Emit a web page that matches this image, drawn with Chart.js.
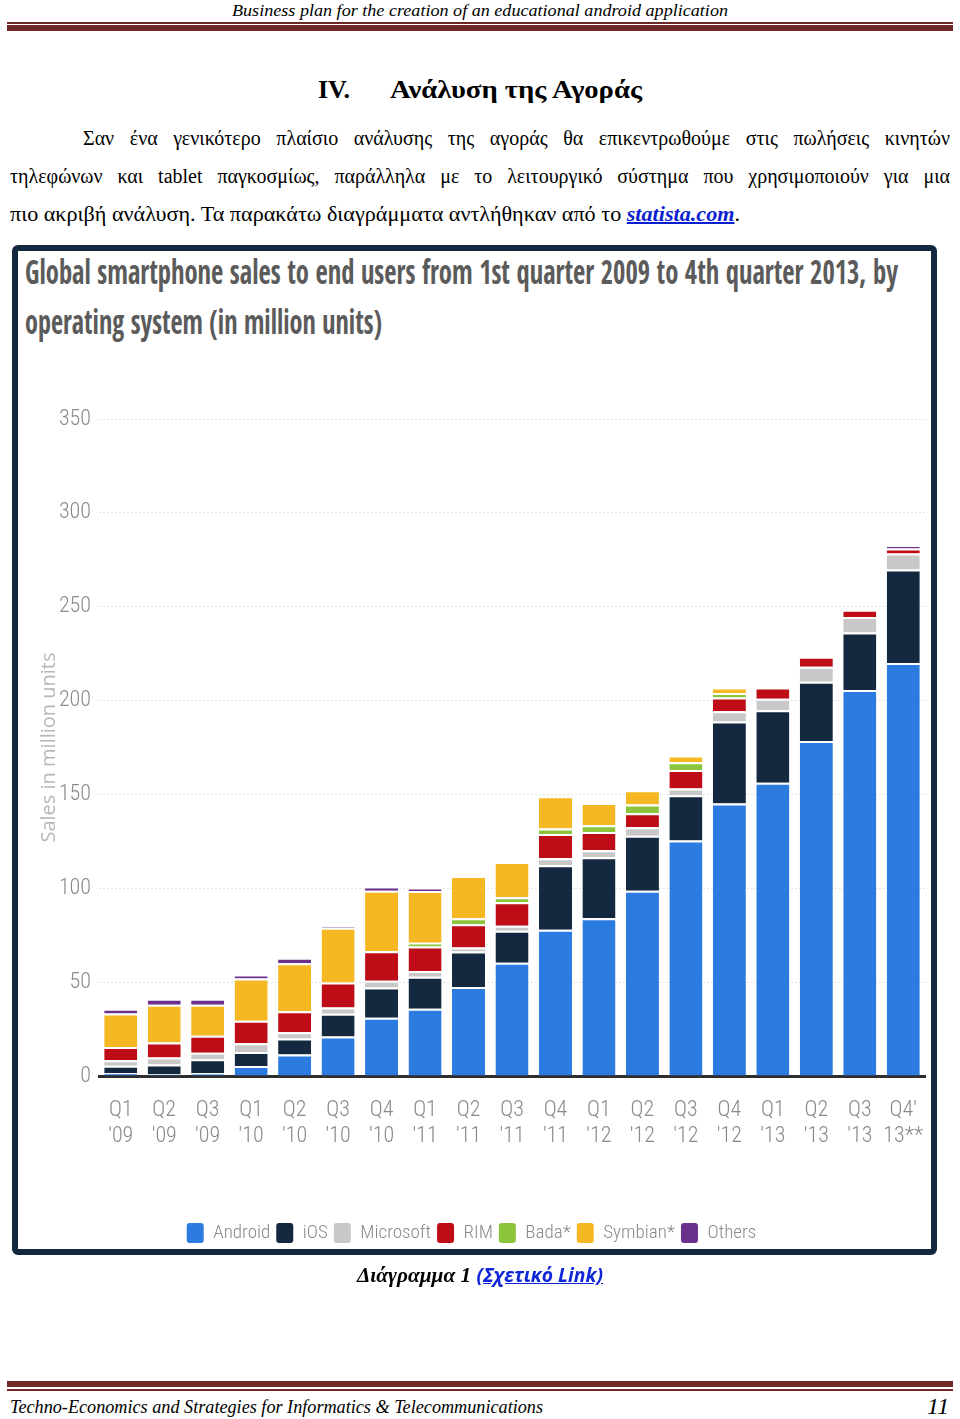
<!DOCTYPE html>
<html><head><meta charset="utf-8">
<script src="https://cdn.jsdelivr.net/npm/chart.js@4.4.1/dist/chart.umd.min.js"></script>
<style>
html,body{margin:0;padding:0;background:#fff;}
body{width:960px;height:1419px;position:relative;overflow:hidden;font-family:"Liberation Serif","Times New Roman",serif;color:#000;}
.abs{position:absolute;white-space:nowrap;}
.fit{transform-origin:0 0;display:inline-block;}
.rule{position:absolute;left:7px;width:946px;background:#6e2828;}
.pline{position:absolute;font-size:20px;line-height:24px;height:24px;white-space:nowrap;}
.just{text-align:justify;text-align-last:justify;white-space:normal;}
a.lnk{color:#0a1fd0;font-weight:bold;font-style:italic;text-decoration:underline;}
#frame{position:absolute;left:12px;top:245px;width:913px;height:998px;border:6px solid #14283f;border-radius:6px;}
.ct{position:absolute;left:25px;font-family:"Open Sans Condensed","Open Sans",sans-serif;font-weight:bold;font-size:34px;line-height:40px;color:#5b5b5b;white-space:nowrap;}
#cv{position:absolute;left:18px;top:370px;}
</style></head>
<body>
<div class="abs fit" id="hdr" style="left:232px;top:0px;font-style:italic;font-size:17px;line-height:21px;" data-w="496">Business plan for the creation of an educational android application</div>
<div class="rule" style="top:22px;height:1.5px;"></div>
<div class="rule" style="top:25px;height:6px;"></div>

<div class="abs" style="left:318px;top:74px;font-weight:bold;font-size:26px;line-height:32px;">IV.</div>
<div class="abs fit" style="left:390px;top:74px;font-weight:bold;font-size:26px;line-height:32px;" data-w="252">Ανάλυση της Αγοράς</div>

<div class="pline just" style="left:83px;width:867px;top:126px;">Σαν ένα γενικότερο πλαίσιο ανάλυσης της αγοράς θα επικεντρωθούμε στις πωλήσεις κινητών</div>
<div class="pline just" style="left:10px;width:940px;top:164px;">τηλεφώνων και tablet παγκοσμίως, παράλληλα με το λειτουργικό σύστημα που χρησιμοποιούν για μια</div>
<div class="pline fit" style="left:10px;top:202px;" data-w="730">πιο ακριβή ανάλυση. Τα παρακάτω διαγράμματα αντλήθηκαν από το <a class="lnk">statista.com</a>.</div>

<div id="frame"></div>
<div class="ct fit" style="top:251px;" data-w="873">Global smartphone sales to end users from 1st quarter 2009 to 4th quarter 2013, by</div>
<div class="ct fit" style="top:301px;" data-w="357">operating system (in million units)</div>

<canvas id="cv" width="913" height="893"></canvas>

<div class="abs fit" style="left:357px;top:1263px;font-size:21px;line-height:24px;font-style:italic;font-weight:bold;" data-w="246">Διάγραμμα 1 <a class="lnk" style="color:#1027d8;font-family:'Open Sans',sans-serif;font-size:19px;">(Σχετικό Link)</a></div>

<div class="rule" style="top:1381px;height:6px;"></div>
<div class="rule" style="top:1389px;height:1.5px;"></div>
<div class="abs fit" style="left:10px;top:1396px;font-style:italic;font-size:18px;line-height:22px;" data-w="533">Techno-Economics and Strategies for Informatics &amp; Telecommunications</div>
<div class="abs" style="left:927px;top:1392px;font-style:italic;font-size:24px;line-height:28px;">11</div>

<script>
// ---- data ----
const quarterLabels = [["Q1","'09"],["Q2","'09"],["Q3","'09"],["Q1","'10"],["Q2","'10"],["Q3","'10"],["Q4","'10"],["Q1","'11"],["Q2","'11"],["Q3","'11"],["Q4","'11"],["Q1","'12"],["Q2","'12"],["Q3","'12"],["Q4","'12"],["Q1","'13"],["Q2","'13"],["Q3","'13"],["Q4'","13**"]];
const android   = [1.6, 0.8, 1.4, 5.3, 11.5, 21.0, 31.0, 35.8, 47.4, 60.3, 77.9, 84.0, 98.7, 125.4, 145.2, 156.2, 178.4, 205.6, 220.0];
const ios       = [3.8, 5.3, 7.5, 7.5, 8.5, 12.2, 16.2, 17.1, 18.9, 17.1, 34.4, 32.5, 29.3, 24.1, 43.7, 38.6, 31.6, 30.6, 49.8];
const microsoft = [3.0, 3.7, 3.5, 4.6, 3.3, 3.3, 3.5, 3.0, 2.2, 2.6, 3.7, 3.8, 4.5, 3.7, 5.4, 6.2, 8.0, 8.3, 8.5];
const rim       = [7.1, 8.0, 9.0, 12.0, 11.2, 13.3, 15.8, 13.1, 12.3, 12.5, 12.9, 9.7, 7.5, 9.8, 7.3, 6.0, 5.4, 3.9, 2.7];
const bada      = [0, 0, 0, 0, 0, 0, 0, 2.0, 3.2, 2.7, 3.0, 3.6, 4.7, 4.1, 2.4, 0, 0, 0, 0];
const symbian   = [17.8, 20.1, 16.5, 22.5, 25.5, 29.2, 32.2, 27.5, 22.5, 18.8, 17.1, 11.9, 7.5, 3.7, 3.0, 0, 0, 0, 0];
const others    = [2.5, 3.3, 3.3, 2.1, 3.0, 0.5, 2.3, 1.6, 0, 0, 0, 0, 0, 0, 0, 0, 0, 0, 1.7];
const seriesNames = ["Android","iOS","Microsoft","RIM","Bada*","Symbian*","Others"];
const yTicks = [0,50,100,150,200,250,300,350];

// fit helper
document.querySelectorAll('.fit').forEach(el=>{
  const w = +el.dataset.w; if(!w) return;
  const r = el.getBoundingClientRect().width;
  el.style.transform = 'scaleX(' + (w/r) + ')';
});

const COND = "'Roboto Condensed','Open Sans Condensed',sans-serif";
const colors = ['#2c7be0','#14283f','#c8c8c8','#bf0d17','#8cc43c','#f5b823','#6b2f8c'];
const vals = [android, ios, microsoft, rim, bada, symbian, others];
const datasets = seriesNames.map((n,i)=>({
  label:n, data:vals[i], backgroundColor:colors[i], borderColor:'#ffffff',
  borderWidth:{top:2,right:0,bottom:0,left:0}, borderSkipped:false,
  barPercentage:0.76, categoryPercentage:1.0
}));

new Chart(document.getElementById('cv'), {
  type:'bar',
  data:{labels:quarterLabels, datasets},
  options:{
    responsive:false, animation:false, devicePixelRatio:1,
    layout:{padding:{left:0,right:6,top:49,bottom:10}},
    plugins:{
      tooltip:{enabled:false},
      legend:{position:'bottom', labels:{
        color:'#8a8a8a', font:{family:COND,size:19,weight:300}, boxWidth:17, boxHeight:20,
        useBorderRadius:true, borderRadius:3, padding:6,
        generateLabels:(chart)=>Chart.defaults.plugins.legend.labels.generateLabels(chart).map(l=>({...l,lineWidth:0,strokeStyle:'rgba(0,0,0,0)'}))
      }}
    },
    scales:{
      x:{stacked:true,
         grid:{display:true, drawOnChartArea:false, drawTicks:true, tickLength:18, tickColor:'rgba(0,0,0,0)'},
         border:{display:true,color:'#2e2e2e',width:3},
         ticks:{padding:3,color:'#8a8a8a',font:{family:COND,size:22,weight:300},maxRotation:0,autoSkip:false},
         afterFit:(s)=>{s.height=141;}},
      y:{stacked:true, min:0, max:350,
         afterBuildTicks:(s)=>{s.ticks = yTicks.map(v=>({value:v}));},
         ticks:{padding:8,color:'#8a8a8a',font:{family:COND,size:22,weight:300}},
         grid:{color:'#e2e2e2',drawTicks:false,lineWidth:1},
         border:{display:false,dash:[2,2]},
         title:{display:true,text:'Sales in million units',color:'#b8b8b8',font:{family:"'Open Sans',sans-serif",size:20},padding:{top:19,bottom:0}},
         afterFit:(s)=>{s.width=81;}}
    }
  }
});
</script>
</body></html>
